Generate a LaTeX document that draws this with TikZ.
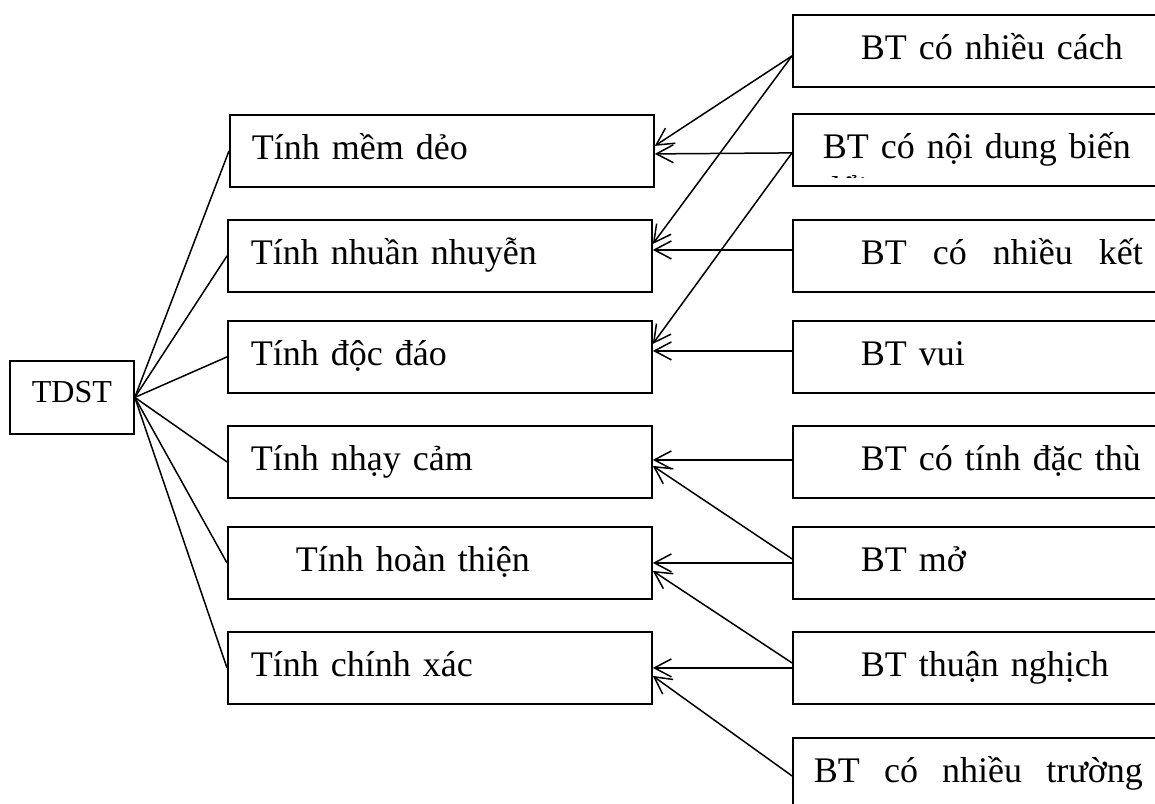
\documentclass[tikz,border=0pt]{standalone}
\usepackage{fontspec}
\setmainfont{Liberation Serif}
\usetikzlibrary{arrows.meta}

\begin{document}
\begin{tikzpicture}[x=1pt,y=-1pt,
  box/.style={draw, line width=1.8pt, anchor=north west, minimum height=72pt,
    inner ysep=0pt, text height=30pt, text depth=12pt, align=left,
    font=\fontsize{36}{41}\selectfont},
  link/.style={line width=1.5pt},
  arr/.style={line width=1.5pt, -{Straight Barb[length=17pt,width=18pt,line width=1.5pt]}}]

\useasboundingbox (0,0) rectangle (1155,803);
\fill[white] (0,0) rectangle (1155,803);
\clip (0,0) rectangle (1155,803);

% root
\node[draw, line width=1.8pt, anchor=north west, minimum width=124pt, minimum height=73pt,
  inner sep=0pt, text height=26pt, text depth=16pt, font=\fontsize{32}{37}\selectfont]
  (T) at (9,360) {TDST};

% qualities
\node[box, inner xsep=22pt, text width=380pt] (M1) at (229,114) {Tính mềm dẻo};
\node[box, inner xsep=23pt, text width=378pt] (M2) at (227,219) {Tính nhuần nhuyễn};
\node[box, inner xsep=23pt, text width=378pt] (M3) at (227,320) {Tính độc đáo};
\node[box, inner xsep=23pt, text width=378pt] (M4) at (227,425) {Tính nhạy cảm};
\node[box, inner xsep=68pt, text width=288pt] (M5) at (227,526) {Tính hoàn thiện};
\node[box, inner xsep=23pt, text width=378pt] (M6) at (227,631) {Tính chính xác};

% exercise types
\node[box, inner xsep=68pt, text width=284pt] (R1) at (792,14) {BT có nhiều cách};
\node[box, inner xsep=30pt, text width=360pt] (R2) at (792,113) {BT có nội dung biến};
\node[box, inner xsep=68pt, text width=284pt] (R3) at (792,219) {\hbox to 282pt{BT\hfill có\hfill nhiều\hfill kết}};
\node[box, inner xsep=68pt, text width=284pt] (R4) at (792,320) {BT vui};
\node[box, inner xsep=68pt, text width=284pt] (R5) at (792,425) {BT có tính đặc thù};
\node[box, inner xsep=68pt, text width=284pt] (R6) at (792,526) {BT mở};
\node[box, inner xsep=68pt, text width=284pt] (R7) at (792,631) {BT thuận nghịch};
\node[box, inner xsep=21pt, text width=378pt] (R8) at (792,737) {\hbox to 329pt{BT\hfill có\hfill nhiều\hfill trường}};

% second line of R2, cut off by the box
\begin{scope}
  \clip (795,116) rectangle (1155,177);
  \node[anchor=base west, inner sep=0pt, font=\fontsize{36}{41}\selectfont] (R2b) at (822,201) {đổi};
\end{scope}

% root to qualities
\foreach \m in {M1,M2,M3,M4,M5,M6}
  \draw[link] (T.east) -- (\m.west);

% exercise types to qualities
\draw[arr] ([yshift=-5pt]R1.west) -- ([yshift=5pt]M1.east);
\draw[arr] ([yshift=-5pt]R1.west) -- ([yshift=12pt]M2.east);
\draw[arr] ([yshift=-3pt]R2.west) -- ([yshift=-3pt]M1.east);
\draw[arr] ([yshift=-3pt]R2.west) -- ([yshift=13pt]M3.east);
\draw[arr] ([yshift=6pt]R3.west) -- ([yshift=6pt]M2.east);
\draw[arr] ([yshift=6pt]R4.west) -- ([yshift=6pt]M3.east);
\draw[arr] ([yshift=2pt]R5.west) -- ([yshift=2pt]M4.east);
\draw[arr] ([yshift=4pt]R6.west) -- ([yshift=-4pt]M4.east);
\draw[arr] (R6.west) -- (M5.east);
\draw[arr] ([yshift=5pt]R7.west) -- ([yshift=-8pt]M5.east);
\draw[arr] (R7.west) -- (M6.east);
\draw[arr] ([yshift=-2pt]R8.west) -- ([yshift=-8pt]M6.east);
\end{tikzpicture}
\end{document}
